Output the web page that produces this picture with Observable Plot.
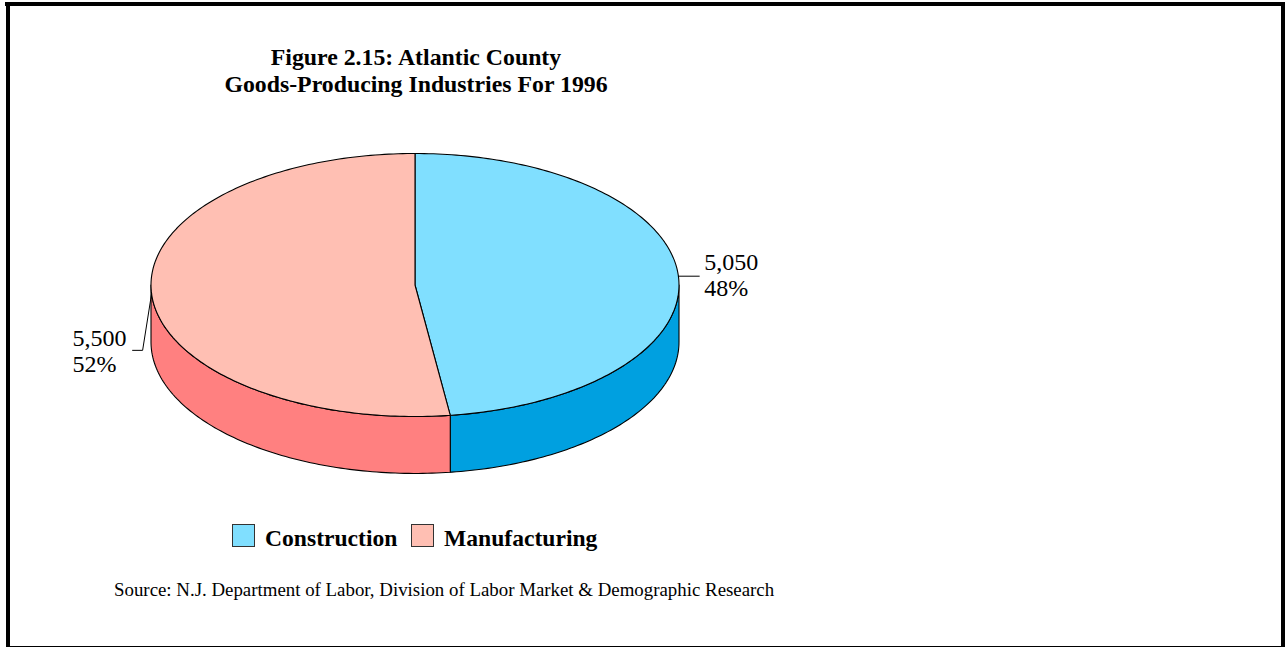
<!DOCTYPE html>
<html>
<head>
<meta charset="utf-8">
<script src="https://cdn.jsdelivr.net/npm/d3@7"></script>
<script src="https://cdn.jsdelivr.net/npm/@observablehq/plot@0.6"></script>
<style>
html,body{margin:0;padding:0;background:#fff;overflow:hidden}
body{width:1285px;height:647px;position:relative;font-family:"Liberation Serif",serif;color:#000}
#top{position:absolute;left:5px;top:2px;width:1280px;height:4px;background:#000}
#left{position:absolute;left:6px;top:2px;width:4px;height:645px;background:#000}
#right{position:absolute;left:1281px;top:2px;width:4px;height:645px;background:#000}
#bottom{position:absolute;left:6px;top:646px;width:1279px;height:1px;background:#000}
#title{position:absolute;left:116px;width:600px;top:44px;text-align:center;font-weight:bold;font-size:23.8px;line-height:27px}
#chart{position:absolute;left:0;top:130px}
#legend{position:absolute;left:0;top:0}
.sw{position:absolute;top:524px;width:21px;height:21px;border:1px solid #333;box-sizing:content-box}
.lg{position:absolute;top:524px;font-weight:bold;font-size:23.6px;line-height:28px;white-space:nowrap}
#source{position:absolute;left:114px;top:580px;font-size:18.87px;line-height:20px;white-space:nowrap}
</style>
</head>
<body>
<div id="top"></div><div id="left"></div><div id="right"></div><div id="bottom"></div>
<div id="title">Figure 2.15: Atlantic County<br>Goods-Producing Industries For 1996</div>
<div id="chart"></div>
<div id="legend"></div>
<div id="source">Source: N.J. Department of Labor, Division of Labor Market &amp; Demographic Research</div>
<script>
const categories = ["Construction", "Manufacturing"];
const employment = [5050, 5500];
const percentLabels = ["48%", "52%"];
const topColors = ["#80dfff", "#ffbfb3"];
const sideColors = ["#00a0e0", "#ff8080"];

const depth = 0.433;              // wall height, in pie radii of the y scale
const total = d3.sum(employment);
const cuts = [0, employment[0] / total * 360, 360];
const rad = (a) => a * Math.PI / 180;
const rim = (a, drop = 0) => ({x: Math.sin(rad(a)), y: Math.cos(rad(a)) - drop});
const arc = (a0, a1, drop = 0) => d3.range(a0, a1, 1).concat([a1]).map((a) => rim(a, drop));

const tops = categories.map((c, i) => ({
  color: topColors[i],
  points: [{x: 0, y: 0}, ...arc(cuts[i], cuts[i + 1])]
}));
// only the front half of the rim shows a wall
const walls = categories.map((c, i) => {
  const a0 = Math.max(cuts[i], 90), a1 = Math.min(cuts[i + 1], 270);
  return {color: sideColors[i], points: [...arc(a0, a1), ...arc(a0, a1, depth).reverse()]};
});
const face = (s) => Plot.line(s.points, {
  x: "x", y: "y", curve: "linear-closed", fill: s.color, stroke: "#000", strokeWidth: 1.1
});

const mids = categories.map((c, i) => rim((cuts[i] + cuts[i + 1]) / 2));
const leaders = [
  [mids[0], {x: mids[0].x + 0.079, y: mids[0].y}],
  [mids[1], {x: mids[1].x - 0.034, y: mids[1].y - 0.43}, {x: mids[1].x - 0.072, y: mids[1].y - 0.43}]
];
const labels = categories.map((c, i) => ({
  ...leaders[i][leaders[i].length - 1],
  text: d3.format(",")(employment[i]) + "\n" + percentLabels[i]
}));

const plot = Plot.plot({
  width: 1285,
  height: 360,
  margin: 0,
  x: {domain: [-1, 1], range: [150.5, 678.5], axis: null},
  y: {domain: [1, -1], range: [23, 286], axis: null},
  style: {background: "transparent", fontFamily: "'Liberation Serif', serif"},
  marks: [
    ...walls.map(face),
    ...tops.map(face),
    ...leaders.map((l) => Plot.line(l, {x: "x", y: "y", stroke: "#000", strokeWidth: 1})),
    Plot.text([labels[0]], {x: "x", y: "y", text: "text", textAnchor: "start", dx: 5, dy: -1.5, fontSize: 24, lineHeight: 1.083, fill: "#000"}),
    Plot.text([labels[1]], {x: "x", y: "y", text: "text", textAnchor: "start", dx: -60, fontSize: 24, lineHeight: 1.083, fill: "#000"})
  ]
});
document.getElementById("chart").appendChild(plot);

const legendLefts = [232, 411];
const legendTextLefts = [265, 444];
const legend = document.getElementById("legend");
categories.forEach((c, i) => {
  const s = document.createElement("div");
  s.className = "sw"; s.style.left = legendLefts[i] + "px"; s.style.background = topColors[i];
  const t = document.createElement("div");
  t.className = "lg"; t.style.left = legendTextLefts[i] + "px"; t.textContent = c;
  legend.append(s, t);
});
</script>
</body>
</html>
